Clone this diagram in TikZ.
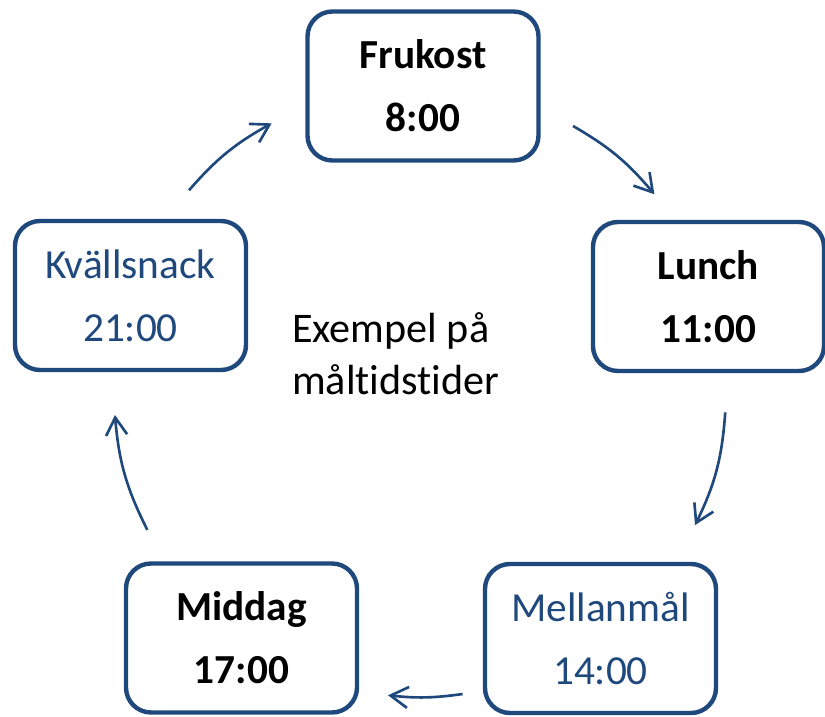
\documentclass[tikz,border=0pt]{standalone}
\usepackage{fontspec}
\setmainfont{Carlito}[Ligatures={NoCommon,NoContextual,NoRequired}, Contextuals=NoAlternate]
\usepackage{tikz}
\usetikzlibrary{arrows, arrows.meta}
\definecolor{mealblue}{HTML}{1F497D}

\begin{document}
\begin{tikzpicture}[
    mealbox/.style={draw=mealblue, line width=2.5pt, rounded corners=0.5cm, fill=white,
        minimum width=4.62cm, minimum height=2.98cm, align=center,
        font=\fontsize{23.5}{35.7}\selectfont},
    boldmeal/.style={mealbox, font=\bfseries\fontsize{23.5}{35.7}\selectfont},
    lightmeal/.style={mealbox, text=mealblue},
    cyclearrow/.style={draw=mealblue, line width=1.5pt, -{Straight Barb[length=10pt,width=12pt]}}
]
    \useasboundingbox (0,0) rectangle (16.5,14.34);
    \coordinate (hub) at (8.40,6.52);
    \node[boldmeal] (frukost) at (8.46,12.62){Frukost\\8:00};
    \node[boldmeal] (lunch) at (14.17,8.41){Lunch\\11:00};
    \node[lightmeal] (mellanmal) at (12.01,1.57){Mellanmål\\14:00};
    \node[boldmeal] (middag) at (4.83,1.58){Middag\\17:00};
    \node[lightmeal] (kvallsnack) at (2.61,8.43){Kvällsnack\\21:00};
    \node[anchor=west, align=left, font=\fontsize{24}{29.5}\selectfont] (rubrik) at (5.72,7.26){Exempel på\\måltidstider};
    \coordinate (a1s) at ([shift={(60:6.12)}]hub);
    \coordinate (a1e) at ([shift={(40:6.12)}]hub);
    \coordinate (a2s) at ([shift={(-4:6.12)}]hub);
    \coordinate (a2e) at ([shift={(-26:6.12)}]hub);
    \coordinate (a3s) at ([shift={(-82:6.12)}]hub);
    \coordinate (a3e) at ([shift={(-96:6.12)}]hub);
    \coordinate (a4s) at ([shift={(-153:6.12)}]hub);
    \coordinate (a4e) at ([shift={(-175.5:6.12)}]hub);
    \coordinate (a5s) at ([shift={(139:6.12)}]hub);
    \coordinate (a5e) at ([shift={(119:6.12)}]hub);
    \draw[cyclearrow] (a1s) to[bend left=10] (a1e);
    \draw[cyclearrow] (a2s) to[bend left=11] (a2e);
    \draw[cyclearrow] (a3s) to[bend left=7] (a3e);
    \draw[cyclearrow] (a4s) to[bend left=11] (a4e);
    \draw[cyclearrow] (a5s) to[bend left=10] (a5e);
\end{tikzpicture}
\end{document}
